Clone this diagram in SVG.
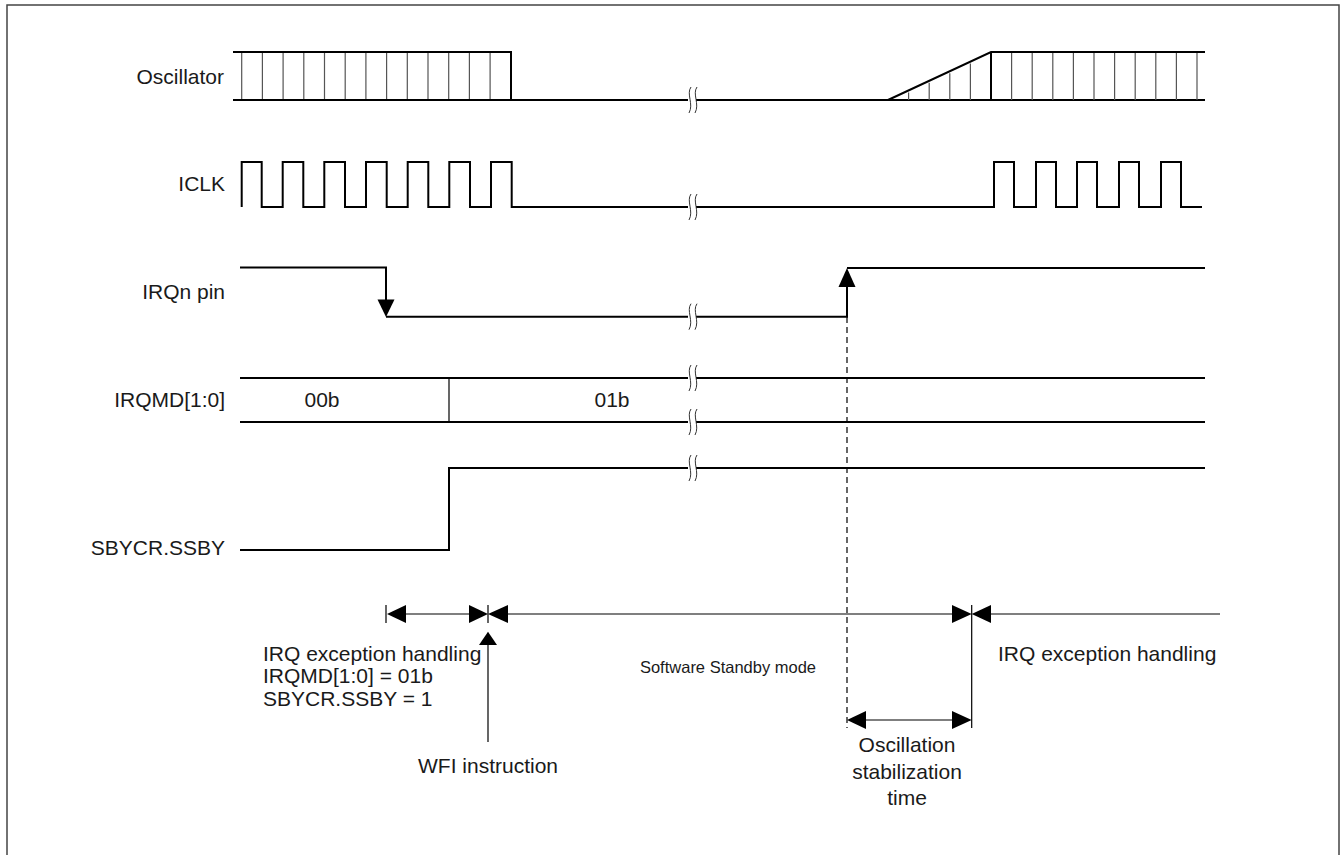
<svg xmlns="http://www.w3.org/2000/svg" width="1341" height="855" viewBox="0 0 1341 855">
<defs>
<style>
.w{fill:none;stroke:#000;stroke-width:2}
.h{fill:none;stroke:#555;stroke-width:1.2}
.t{fill:none;stroke:#000;stroke-width:1.2}
.brk{fill:none;stroke:#333;stroke-width:1}
.lbl{font-family:"Liberation Sans",Arial,sans-serif;font-size:21px;fill:#1a1a1a}
.sm{font-family:"Liberation Sans",Arial,sans-serif;font-size:16.5px;fill:#1a1a1a}
.ah{fill:#000}
</style>
<g id="brkmark"><rect x="-4" y="-12" width="8" height="24" fill="#fff"/><path d="M-1,-13 C-6,-6 2,4 -3,13 M5,-13 C0,-6 8,4 3,13" class="brk"/></g>
</defs>
<rect width="1341" height="855" fill="#fff"/>
<path d="M7,860 V5 H1339 V860" fill="none" stroke="#444" stroke-width="1.5"/>

<g id="oscillator">
<text class="lbl" x="224" y="84" text-anchor="end">Oscillator</text>
<path class="h" d="M241.7,52V100M262.4,52V100M283.1,52V100M303.8,52V100M324.5,52V100M345.2,52V100M365.9,52V100M386.6,52V100M407.3,52V100M428,52V100M448.7,52V100M469.4,52V100M490.1,52V100"/>
<path class="w" d="M233,52H511V100M233,100H1205"/>
<path class="h" d="M908.6,100V92.4M929.2,100V82.8M949.8,100V73.2M970.4,100V63.6M1011.6,52V100M1032.2,52V100M1052.8,52V100M1073.4,52V100M1094,52V100M1114.6,52V100M1135.2,52V100M1155.8,52V100M1176.4,52V100M1197,52V100"/>
<path class="w" d="M888,100L991,52H1205M991,52V100"/>
<use href="#brkmark" x="692" y="100"/>
</g>

<g id="iclk">
<text class="lbl" x="225" y="191" text-anchor="end">ICLK</text>
<path class="w" d="M241.7,207V162H261.7V207H282.7V162H303.3V207H324.3V162H345V207H366V162H386.7V207H407.7V162H428.3V207H449.3V162H470V207H491V162H511.7V207H994V162H1014V207H1036V162H1056V207H1077V162H1097V207H1119V162H1139V207H1161V162H1181V207H1202"/>
<use href="#brkmark" x="692" y="207"/>
</g>

<g id="irqn">
<text class="lbl" x="225" y="299" text-anchor="end">IRQn pin</text>
<path class="w" d="M240,267.5H386V300M386,316.7H847V286M847,268H1205"/>
<path class="ah" d="M377.5,299.5H394.5L386,317Z"/>
<path class="ah" d="M838.5,287H855.5L847,268Z"/>
<use href="#brkmark" x="692" y="316.7"/>
</g>

<g id="irqmd">
<text class="lbl" x="225" y="407" text-anchor="end">IRQMD[1:0]</text>
<path class="w" d="M240,378H1205M240,422H1205"/>
<path class="t" d="M449,378V422"/>
<text class="lbl" x="322" y="407" text-anchor="middle">00b</text>
<text class="lbl" x="612" y="407" text-anchor="middle">01b</text>
<use href="#brkmark" x="692" y="378"/>
<use href="#brkmark" x="692" y="422"/>
</g>

<g id="sbycr">
<text class="lbl" x="225" y="555" text-anchor="end">SBYCR.SSBY</text>
<path class="w" d="M240,550H449V468H1205"/>
<use href="#brkmark" x="692" y="468"/>
</g>

<g id="connectors">
<path class="t" d="M386,605V623M406,614H470M488,605V623M508,614H952M971.7,605V728M991,614H1220"/>
<path class="ah" d="M387,614L406,605V623Z"/>
<path class="ah" d="M488,614L469,605V623Z"/>
<path class="ah" d="M488,614L508,605V623Z"/>
<path class="ah" d="M971.7,614L952,605V623Z"/>
<path class="ah" d="M971.7,614L991,605V623Z"/>
<path class="t" d="M488,645V742"/>
<path class="ah" d="M488,631.7L497,645H479Z"/>
<path class="t" d="M847,287V728" stroke-dasharray="6,4"/>
<path class="t" d="M866,720H952"/>
<path class="ah" d="M847,720L866,711V729Z"/>
<path class="ah" d="M971.7,720L952,711V729Z"/>
</g>

<g id="annotations">
<text class="lbl" x="263" y="661">IRQ exception handling</text>
<text class="lbl" x="263" y="683">IRQMD[1:0] = 01b</text>
<text class="lbl" x="263" y="706">SBYCR.SSBY = 1</text>
<text class="lbl" x="488" y="773" text-anchor="middle">WFI instruction</text>
<text class="sm" x="728" y="673" text-anchor="middle">Software Standby mode</text>
<text class="lbl" x="998" y="661">IRQ exception handling</text>
<text class="lbl" x="907" y="752" text-anchor="middle">Oscillation</text>
<text class="lbl" x="907" y="779" text-anchor="middle">stabilization</text>
<text class="lbl" x="907" y="805" text-anchor="middle">time</text>
</g>
</svg>
